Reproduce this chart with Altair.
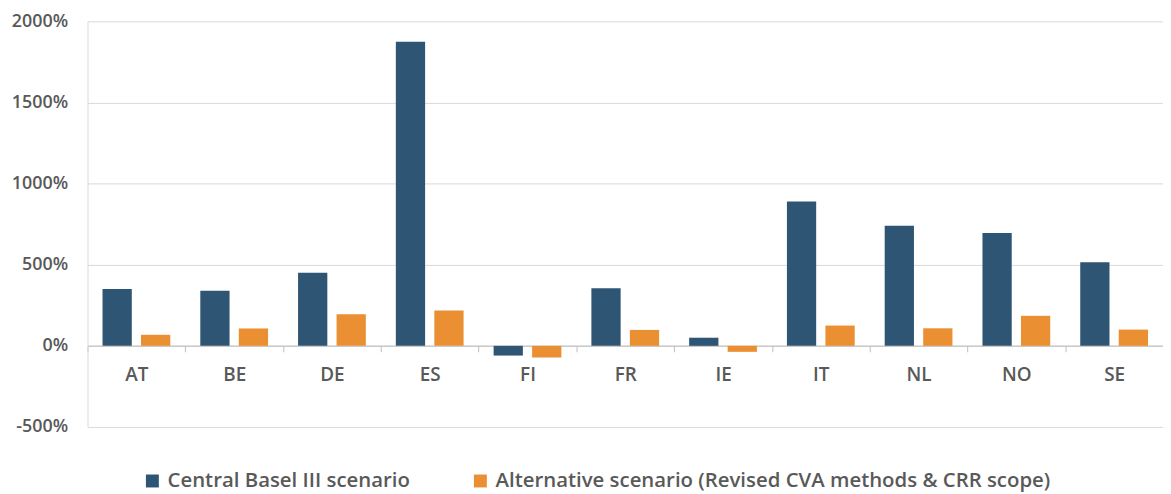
import altair as alt
import pandas as pd

countries = ["AT", "BE", "DE", "ES", "FI", "FR", "IE", "IT", "NL", "NO", "SE"]
central = [350, 340, 450, 1875, -60, 355, 50, 890, 740, 695, 515]
alternative = [68, 107, 195, 218, -72, 98, -37, 125, 108, 185, 100]
series = ["Central Basel III scenario", "Alternative scenario (Revised CVA methods & CRR scope)"]
colors = ["#2E5573", "#EA8F32"]
y_ticks = [-500, 0, 500, 1000, 1500, 2000]

rows = []
for c, a, b in zip(countries, central, alternative):
    rows.append({"country": c, "series": series[0], "value": a})
    rows.append({"country": c, "series": series[1], "value": b})
df = pd.DataFrame(rows)

FONT = "Open Sans"
TXT = "#595959"
W = 600

chart = alt.Chart(df).mark_bar().encode(
    x=alt.X("country:N", sort=countries, title=None,
            scale=alt.Scale(paddingInner=0, paddingOuter=0),
            axis=alt.Axis(labelAngle=0, offset=-81.6, tickBand="extent",
                          tickSize=6, tickColor="#BFBFBF", domainColor="#BFBFBF",
                          labelPadding=14, labelFont=FONT, labelFontSize=19,
                          labelFontWeight=W, labelColor=TXT, grid=False)),
    xOffset=alt.XOffset("series:N", sort=series,
                        scale=alt.Scale(paddingInner=0.24, paddingOuter=0.39)),
    y=alt.Y("value:Q", title=None,
            scale=alt.Scale(domain=[-500, 2000], nice=False),
            axis=alt.Axis(values=y_ticks, labelExpr="datum.value + '%'",
                          ticks=False, tickSize=0, labelPadding=20,
                          labelFont=FONT, labelFontSize=18, labelFontWeight=W,
                          labelColor=TXT,
                          gridColor="#D9D9D9", domainColor="#D9D9D9")),
    color=alt.Color("series:N", sort=series,
                    scale=alt.Scale(domain=series, range=colors),
                    legend=alt.Legend(title=None, orient="none", direction="horizontal",
                                      legendX=55, legendY=452,
                                      symbolType="square", symbolSize=169,
                                      symbolStrokeWidth=0, labelOffset=5,
                                      columnPadding=60,
                                      labelFont=FONT, labelFontSize=20.5,
                                      labelFontWeight=W,
                                      labelColor=TXT, labelLimit=0)),
).properties(
    width=1082, height=408,
    autosize=alt.AutoSizeParams(type="none"),
    padding={"left": 80, "top": 12, "right": 0, "bottom": 66},
).configure_view(stroke=None)

chart.save("out.html", embed_options={"renderer": "svg", "actions": False})
